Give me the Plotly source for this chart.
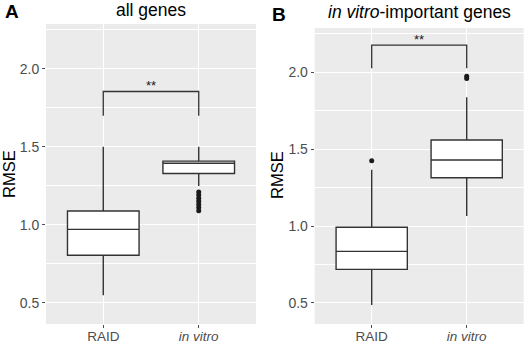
import plotly.graph_objects as go

categories = ["RAID", "in vitro"]
tick_text = ["RAID", "<i>in vitro</i>"]

# Panel A: all genes
a_q1 = [0.804, 1.329]
a_median = [0.970, 1.394]
a_q3 = [1.088, 1.408]
a_lower = [0.547, 1.248]
a_upper = [1.500, 1.500]
a_out_x = ["in vitro"] * 7
a_out_y = [1.21, 1.19, 1.17, 1.15, 1.13, 1.11, 1.09]
a_bracket_y = [1.70, 1.855, 1.855, 1.70]

# Panel B: in vitro-important genes
b_q1 = [0.718, 1.314]
b_median = [0.835, 1.430]
b_q3 = [0.992, 1.560]
b_lower = [0.487, 1.065]
b_upper = [1.366, 1.838]
b_out_x = ["RAID", "in vitro", "in vitro"]
b_out_y = [1.424, 1.960, 1.975]
b_bracket_y = [2.026, 2.177, 2.177, 2.026]

bracket_x = ["RAID", "RAID", "in vitro", "in vitro"]

yrange = [0.363, 2.288]
W, H = 526, 344

fig = go.Figure()

box_style = dict(fillcolor="white", line=dict(color="#333333", width=1.4),
                 width=0.75, whiskerwidth=0, showlegend=False, hoverinfo="skip")

fig.add_trace(go.Box(x=categories, q1=a_q1, median=a_median, q3=a_q3,
                     lowerfence=a_lower, upperfence=a_upper,
                     xaxis="x", yaxis="y", **box_style))
fig.add_trace(go.Scatter(x=a_out_x, y=a_out_y, mode="markers",
                         marker=dict(color="#1a1a1a", size=5),
                         xaxis="x", yaxis="y", showlegend=False))
fig.add_trace(go.Scatter(x=bracket_x, y=a_bracket_y, mode="lines",
                         line=dict(color="#333333", width=1.3),
                         xaxis="x", yaxis="y", showlegend=False))

fig.add_trace(go.Box(x=categories, q1=b_q1, median=b_median, q3=b_q3,
                     lowerfence=b_lower, upperfence=b_upper,
                     xaxis="x2", yaxis="y2", **box_style))
fig.add_trace(go.Scatter(x=b_out_x, y=b_out_y, mode="markers",
                         marker=dict(color="#1a1a1a", size=5),
                         xaxis="x2", yaxis="y2", showlegend=False))
fig.add_trace(go.Scatter(x=bracket_x, y=b_bracket_y, mode="lines",
                         line=dict(color="#333333", width=1.3),
                         xaxis="x2", yaxis="y2", showlegend=False))

font_family = "Liberation Sans, Arial, sans-serif"

xaxis_common = dict(type="category", categoryorder="array", categoryarray=categories,
                    range=[-0.6, 1.6], tickvals=categories, ticktext=tick_text,
                    showgrid=True, gridcolor="white", gridwidth=1.2,
                    ticks="outside", ticklen=3, tickcolor="#4d4d4d", tickwidth=1,
                    ticklabelstandoff=-3,
                    tickfont=dict(size=13.5, color="#4d4d4d", family=font_family),
                    zeroline=False, showline=False, fixedrange=True, automargin=False)
yaxis_common = dict(range=yrange, tickvals=[0.5, 1.0, 1.5, 2.0],
                    ticktext=["0.5", "1.0", "1.5", "2.0"],
                    showgrid=True, gridcolor="white", gridwidth=1.2,
                    minor=dict(tickvals=[0.75, 1.25, 1.75, 2.25], showgrid=True,
                               gridcolor="white", gridwidth=0.6, ticks=""),
                    ticks="outside", ticklen=3, tickcolor="#4d4d4d", tickwidth=1,
                    tickfont=dict(size=14, color="#4d4d4d", family=font_family),
                    zeroline=False, showline=False, fixedrange=True, automargin=False)

fig.update_layout(
    width=W, height=H,
    margin=dict(l=0, r=0, t=0, b=0, autoexpand=False),
    paper_bgcolor="white",
    plot_bgcolor="#EBEBEB",
    font=dict(family=font_family, color="black"),
    xaxis=dict(domain=[46 / W, 256 / W], anchor="y", **xaxis_common),
    yaxis=dict(domain=[20 / H, 320 / H], anchor="x", **yaxis_common),
    xaxis2=dict(domain=[314.7 / W, 523.7 / W], anchor="y2", **xaxis_common),
    yaxis2=dict(domain=[20 / H, 316 / H], anchor="x2", **yaxis_common),
    showlegend=False,
)

annotations = [
    dict(text="<b>A</b>", x=3 / W, y=1 - 12 / H, xanchor="left", yanchor="middle",
         font=dict(size=19, color="black")),
    dict(text="<b>B</b>", x=270 / W, y=1 - 15 / H, xanchor="left", yanchor="middle",
         font=dict(size=19, color="black")),
    dict(text="all genes", x=151 / W, y=1 - 10 / H, xanchor="center", yanchor="middle",
         font=dict(size=17.5, color="black")),
    dict(text="<i>in vitro</i>-important genes", x=419.2 / W, y=1 - 12 / H,
         xanchor="center", yanchor="middle", font=dict(size=17.5, color="black")),
    dict(text="RMSE", x=9 / W, y=1 - 174 / H, xanchor="center", yanchor="middle",
         textangle=-90, font=dict(size=16.5, color="black")),
    dict(text="RMSE", x=277 / W, y=1 - 175 / H, xanchor="center", yanchor="middle",
         textangle=-90, font=dict(size=16.5, color="black")),
]
for a in annotations:
    a.update(xref="paper", yref="paper", showarrow=False)

annotations.append(dict(text="**", x=0.5, y=a_bracket_y[1], xref="x", yref="y",
                        xanchor="center", yanchor="bottom", showarrow=False,
                        font=dict(size=13, color="#1a1a1a"), yshift=-4))
annotations.append(dict(text="**", x=0.5, y=b_bracket_y[1], xref="x2", yref="y2",
                        xanchor="center", yanchor="bottom", showarrow=False,
                        font=dict(size=13, color="#1a1a1a"), yshift=-4))

fig.update_layout(annotations=annotations)

fig.write_html("out.html", config={"displayModeBar": False},
               post_script="document.body.style.margin='0';document.body.style.overflow='hidden';")
